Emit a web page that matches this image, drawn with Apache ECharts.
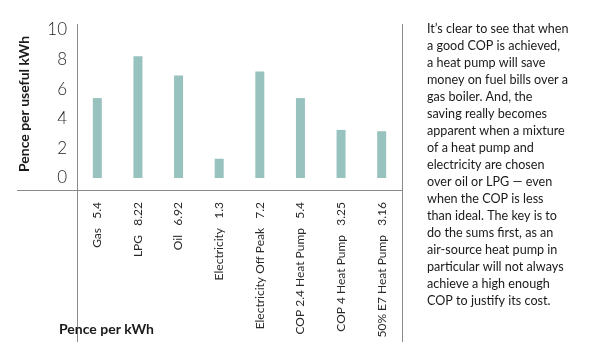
<!DOCTYPE html>
<html>
<head>
<meta charset="utf-8">
<script src="https://cdn.jsdelivr.net/npm/echarts@6/dist/echarts.min.js"></script>
<style>
html,body{margin:0;padding:0;background:#fff;}
#chart{width:610px;height:356px;}
</style>
</head>
<body>
<div id="chart"></div>
<script>
const categories = ['Gas', 'LPG', 'Oil', 'Electricity', 'Electricity Off Peak', 'COP 2.4 Heat Pump', 'COP 4 Heat Pump', '50% E7 Heat Pump'];
const values = [5.4, 8.22, 6.92, 1.3, 7.2, 5.4, 3.25, 3.16];
const yTicks = [0, 2, 4, 6, 8, 10];
const yAxisTitle = 'Pence per useful kWh';
const xAxisTitle = 'Pence per kWh';
const sideText = [
  'It\u2019s clear to see that when',
  'a good COP is achieved,',
  'a heat pump will save',
  'money on fuel bills over a',
  'gas boiler. And, the',
  'saving really becomes',
  'apparent when a mixture',
  'of a heat pump and',
  'electricity are chosen',
  'over oil or LPG \u2014 even',
  'when the COP is less',
  'than ideal. The key is to',
  'do the sums first, as an',
  'air-source heat pump in',
  'particular will not always',
  'achieve a high enough',
  'COP to justify its cost.'
];

const chart = echarts.init(document.getElementById('chart'), null, {renderer: 'canvas'});
const lineColor = '#8a8a8a';
chart.setOption({
  backgroundColor: '#ffffff',
  animation: false,
  grid: {left: 77, right: 208, top: 30, bottom: 178},
  xAxis: {
    type: 'category',
    data: categories,
    offset: 12,
    axisLine: {show: false},
    axisTick: {show: false},
    axisLabel: {
      rotate: 90,
      margin: 12,
      fontFamily: 'Lato',
      fontSize: 12,
      color: '#2a2a2a',
      interval: 0,
      formatter: function (v, i) { return v + '   ' + values[i]; }
    }
  },
  yAxis: {
    type: 'value',
    min: yTicks[0],
    max: yTicks[yTicks.length - 1],
    interval: 2,
    name: yAxisTitle,
    nameLocation: 'middle',
    nameRotate: 90,
    nameGap: 46,
    nameTextStyle: {fontFamily: 'Lato', fontWeight: 'bold', fontSize: 14, color: '#1a1a1a'},
    axisLine: {show: false},
    axisTick: {show: false},
    splitLine: {show: false},
    axisLabel: {margin: 10, fontFamily: 'Lato', fontWeight: 300, fontSize: 17, color: '#1f1f1f'}
  },
  series: [{
    type: 'bar',
    data: values,
    barWidth: 9,
    itemStyle: {color: '#98c2bd'}
  }],
  graphic: [
    {type: 'line', shape: {x1: 17, y1: 190.5, x2: 403, y2: 190.5}, style: {stroke: lineColor, lineWidth: 1}},
    {type: 'line', shape: {x1: 77.5, y1: 24, x2: 77.5, y2: 342}, style: {stroke: lineColor, lineWidth: 1}},
    {type: 'line', shape: {x1: 402.5, y1: 24, x2: 402.5, y2: 342}, style: {stroke: lineColor, lineWidth: 1}},
    {type: 'text', left: 59, top: 322, style: {text: xAxisTitle, fontFamily: 'Lato', fontWeight: 'bold', fontSize: 14, fill: '#1a1a1a'}},
    {type: 'text', left: 427, top: 20, style: {text: sideText.join('\n'), fontFamily: 'Lato', fontSize: 12.6, lineHeight: 17.05, fill: '#1a1a1a'}}
  ]
});
</script>
</body>
</html>
